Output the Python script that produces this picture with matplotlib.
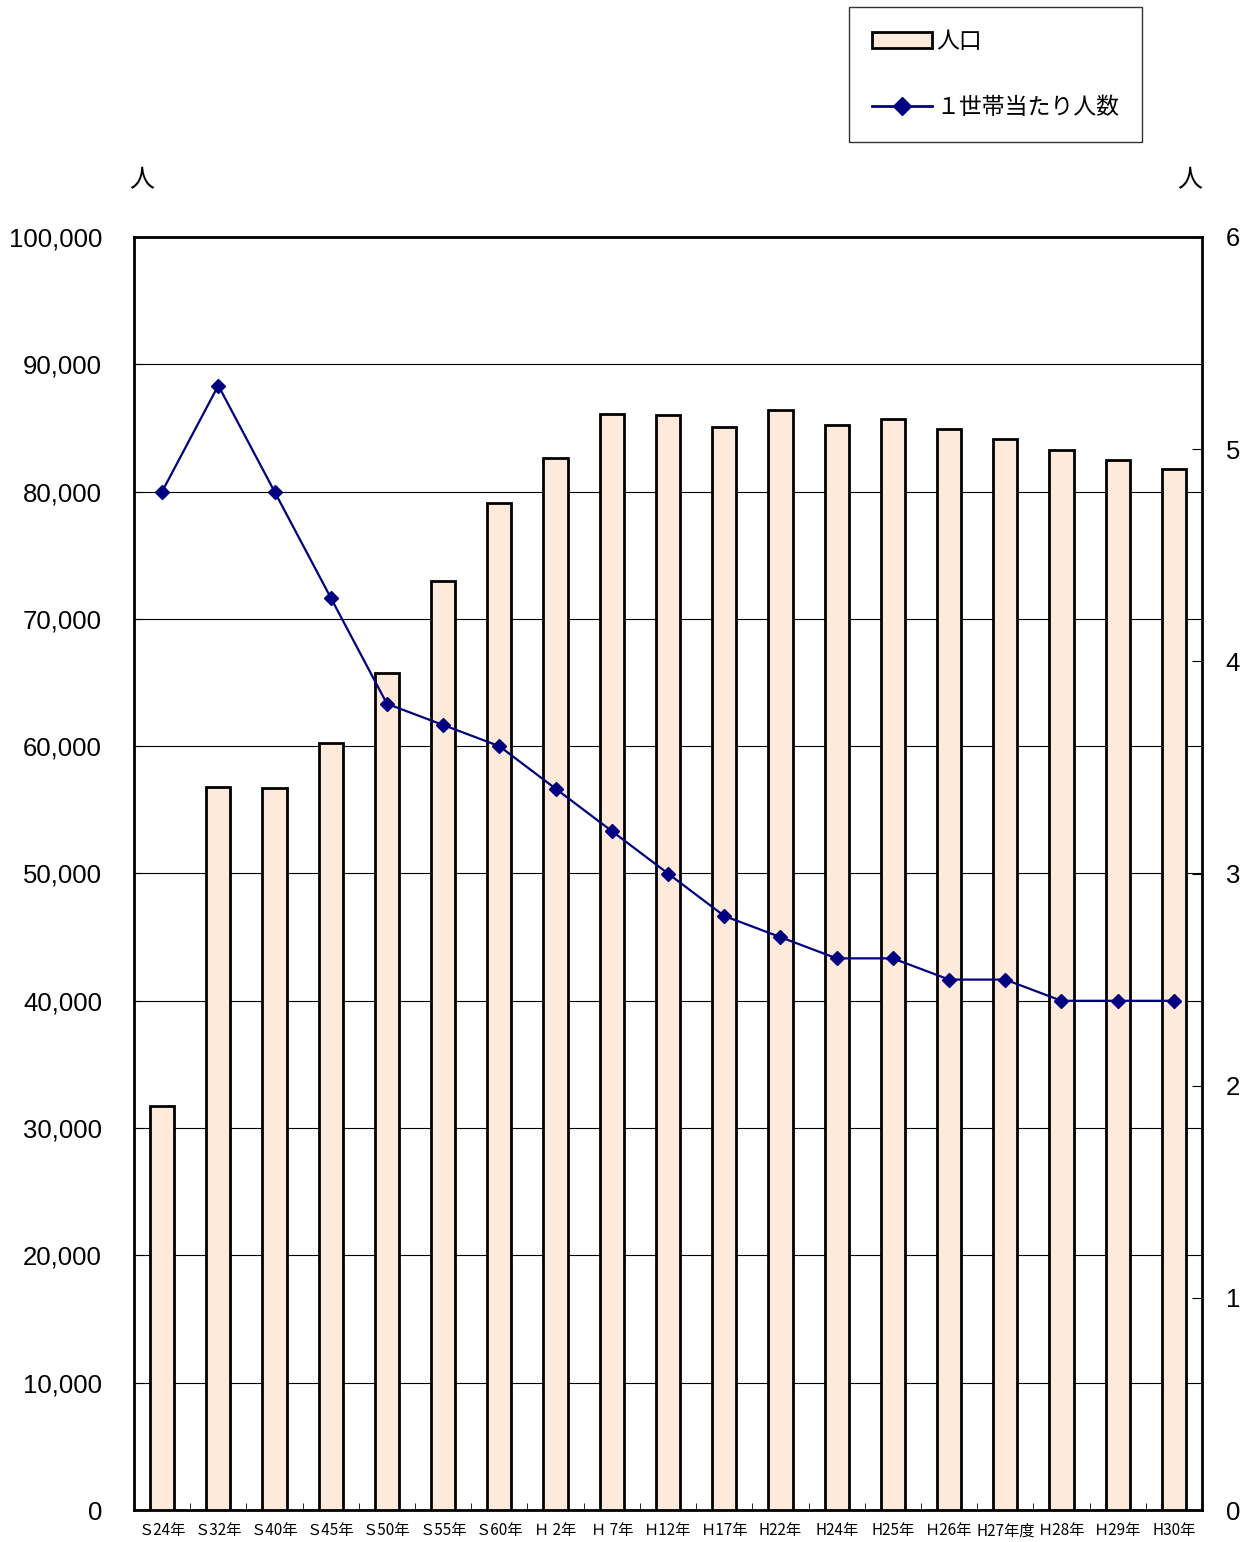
import numpy as np
import matplotlib.pyplot as plt
from matplotlib.patches import Patch
from matplotlib.lines import Line2D

plt.rcParams['font.family'] = ['Noto Sans CJK JP', 'DejaVu Sans']

# data
labels = ["Ｓ24年", "Ｓ32年", "Ｓ40年", "Ｓ45年", "Ｓ50年", "Ｓ55年", "Ｓ60年",
          "Ｈ 2年", "Ｈ 7年", "Ｈ12年", "Ｈ17年", "H22年", "H24年", "H25年",
          "Ｈ26年", "H27年度", "Ｈ28年", "Ｈ29年", "H30年"]
population = [31700, 56800, 56700, 60250, 65750, 72950, 79100, 82650, 86100,
              86000, 85050, 86400, 85250, 85700, 84900, 84100, 83250, 82500, 81800]
per_household = [4.8, 5.3, 4.8, 4.3, 3.8, 3.7, 3.6, 3.4, 3.2, 3.0, 2.8, 2.7,
                 2.6, 2.6, 2.5, 2.5, 2.4, 2.4, 2.4]

bar_color = "#FDEADA"
line_color = "#000080"

W, H = 1255, 1542
fig = plt.figure(figsize=(W / 100, H / 100), dpi=100)
ax = fig.add_axes([134 / W, 1 - 1510 / H, (1202 - 134) / W, (1510 - 237) / H])

x = np.arange(len(labels))
ax.bar(x, population, width=0.43, color=bar_color, edgecolor="black",
       linewidth=2, zorder=3)
ax.set_xlim(-0.5, len(labels) - 0.5)
ax.set_ylim(0, 100000)
ax.set_yticks(np.arange(0, 100001, 10000))
ax.set_yticklabels([f"{v:,}" for v in range(0, 100001, 10000)], fontsize=18.5,
                   family=['Liberation Sans', 'DejaVu Sans'])
ax.yaxis.grid(True, color="black", linewidth=0.8, zorder=0)
ax.set_axisbelow(True)
ax.tick_params(axis="y", direction="in", length=6, pad=23)
ax.set_xticks(x)
ax.set_xticklabels(labels, fontsize=11)
ax.set_xticks(np.arange(-0.5, len(labels)), minor=True)
ax.tick_params(axis="x", which="major", length=0, pad=9)
ax.tick_params(axis="x", which="minor", direction="in", length=5)
for s in ax.spines.values():
    s.set_linewidth(2)

ax2 = ax.twinx()
ax2.plot(x, per_household, color=line_color, linewidth=1.6, marker="D",
         markersize=7, zorder=5)
ax2.set_ylim(0, 6)
ax2.set_yticks(range(0, 7))
ax2.set_yticklabels([str(v) for v in range(0, 7)], fontsize=18.5,
                    family=['Liberation Sans', 'DejaVu Sans'])
ax2.tick_params(axis="y", direction="in", length=7, pad=17)

fig.text(142 / W, 1 - 180 / H, "人", fontsize=18, ha="center", va="center")
fig.text(1190 / W, 1 - 180 / H, "人", fontsize=18, ha="center", va="center")

handles = [Patch(facecolor=bar_color, edgecolor="black", linewidth=2),
           Line2D([0], [0], color=line_color, linewidth=2, marker="D",
                  markersize=9)]
leg = fig.legend(handles, ["人口", "１世帯当たり人数"], loc="upper left",
                 bbox_to_anchor=(849 / W, 1 - 7 / H), fontsize=16.5,
                 frameon=True, fancybox=False, edgecolor="black",
                 borderpad=1.0, labelspacing=1.9, handlelength=2.6,
                 handletextpad=0.2, borderaxespad=0)
leg.get_frame().set_linewidth(1)

fig.savefig("out.png", dpi=100)
